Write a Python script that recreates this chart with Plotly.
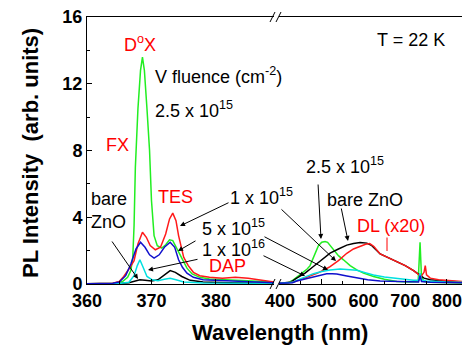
import plotly.graph_objects as go

# ---------------- data: left segment (360-389 nm) ----------------
g_x_l = [360, 364, 365.5, 366.3, 366.8, 367.1, 367.3, 367.5, 367.9, 368.3, 368.6, 368.9, 369.3, 369.7, 370.0, 370.4, 370.9, 371.6, 372.2, 372.8, 373.3, 374.0, 374.7, 375.5, 376.3, 377.5, 379, 382, 385, 389]
g_y_l = [0.02, 0.05, 0.15, 0.4, 0.8, 1.6, 3.5, 7.0, 10.5, 12.8, 13.6, 12.8, 10.5, 8.0, 5.0, 2.9, 2.3, 2.15, 2.35, 2.65, 2.6, 2.1, 1.6, 0.95, 0.6, 0.4, 0.3, 0.25, 0.2, 0.12]

r_x_l = [360, 364, 365.0, 365.7, 366.5, 367.3, 367.9, 368.6, 369.2, 369.8, 370.6, 371.4, 372.2, 372.8, 373.3, 373.8, 374.2, 374.6, 375.0, 375.7, 376.5, 377.5, 379, 381, 383, 385, 389]
r_y_l = [0.02, 0.05, 0.15, 0.45, 0.9, 1.4, 2.4, 3.1, 2.8, 2.3, 2.05, 2.2, 3.0, 3.9, 4.25, 3.8, 2.9, 2.2, 1.6, 1.1, 0.7, 0.5, 0.4, 0.35, 0.4, 0.35, 0.12]

b_x_l = [360, 364, 365.0, 366, 366.8, 367.6, 368.3, 369.0, 369.7, 370.4, 371.2, 372.0, 372.9, 373.6, 374.2, 374.8, 375.5, 376.5, 378, 381, 385, 389]
b_y_l = [0.02, 0.05, 0.12, 0.5, 1.2, 2.1, 2.5, 2.2, 1.75, 1.55, 1.75, 2.2, 2.5, 2.2, 1.45, 1.0, 0.65, 0.4, 0.25, 0.2, 0.15, 0.08]

c_x_l = [360, 365, 366.5, 367.3, 367.8, 368.2, 368.7, 369.3, 370.1, 371.0, 372.0, 372.9, 373.8, 375, 378, 389]
c_y_l = [0.02, 0.03, 0.1, 0.5, 1.1, 1.45, 1.0, 0.45, 0.25, 0.2, 0.28, 0.35, 0.25, 0.12, 0.06, 0.05]

k_x_l = [360, 365, 366.5, 367.5, 368.2, 369, 370, 371, 372, 372.9, 373.7, 374.7, 376, 378, 382, 389]
k_y_l = [0.02, 0.03, 0.08, 0.18, 0.25, 0.22, 0.18, 0.25, 0.55, 0.8, 0.7, 0.45, 0.22, 0.12, 0.08, 0.05]

# ---------------- data: right segment (400-835 nm) ----------------
g_x_r = [397.6, 420, 432, 450, 465, 472, 484, 492, 500, 508, 514, 520, 528, 540, 552, 568, 584, 600, 624, 650, 680, 710, 731, 735.5, 739, 745, 760, 800, 836]
g_y_r = [0.06, 0.08, 0.25, 0.6, 0.9, 1.1, 1.85, 2.3, 2.5, 2.55, 2.5, 2.3, 2.05, 1.7, 1.45, 1.1, 0.85, 0.65, 0.45, 0.28, 0.15, 0.12, 0.15, 2.5, 0.4, 0.15, 0.1, 0.08, 0.06]

k_x_r = [397.6, 425, 440, 460, 480, 500, 520, 540, 560, 576, 592, 608, 620, 640, 660, 680, 700, 720, 736, 745, 760, 780, 800, 836]
k_y_r = [0.05, 0.1, 0.35, 0.65, 1.05, 1.45, 1.85, 2.1, 2.33, 2.43, 2.48, 2.45, 2.3, 1.8, 1.55, 1.35, 1.1, 0.8, 0.5, 0.35, 0.25, 0.2, 0.17, 0.12]

r_x_r = [397.6, 430, 448, 470, 490, 510, 520, 540, 560, 576, 592, 605, 615, 625, 640, 660, 680, 700, 720, 738, 745, 748, 751, 760, 780, 800, 836]
r_y_r = [0.05, 0.1, 0.25, 0.45, 0.65, 0.9, 1.04, 1.4, 1.84, 2.1, 2.28, 2.38, 2.42, 2.25, 1.8, 1.55, 1.35, 1.1, 0.8, 0.45, 0.7, 1.1, 0.55, 0.35, 0.25, 0.2, 0.15]

c_x_r = [397.6, 430, 440, 460, 480, 500, 520, 544, 565, 584, 604, 624, 650, 680, 720, 732, 735.5, 739, 750, 800, 836]
c_y_r = [0.05, 0.1, 0.22, 0.42, 0.62, 0.75, 0.84, 0.9, 0.88, 0.82, 0.68, 0.54, 0.42, 0.32, 0.22, 0.22, 0.65, 0.25, 0.18, 0.12, 0.1]

b_x_r = [397.6, 430, 440, 460, 480, 500, 512, 525, 536, 560, 584, 610, 640, 700, 732, 735.5, 739, 760, 836]
b_y_r = [0.05, 0.08, 0.18, 0.3, 0.44, 0.56, 0.62, 0.62, 0.6, 0.48, 0.35, 0.25, 0.18, 0.12, 0.12, 0.5, 0.15, 0.1, 0.08]

y_ticks = [0, 4, 8, 12, 16]
x_ticks_l = [360, 370, 380]
x_ticks_r = [400, 500, 600, 700, 800]

GREEN = "#22ee22"
RED = "#ff1a1a"
BLUE = "#1010cc"
CYAN = "#00e0e0"
BLACK = "#000000"

W, H = 464, 350
L, R, T, B = 87, 2, 17, 66
PW, PH = W - L - R, H - T - B


def px(x):
    return (x - L) / PW


def py(y):
    return (H - B - y) / PH


fig = go.Figure()
series = [
    (g_x_l, g_y_l, g_x_r, g_y_r, GREEN),
    (k_x_l, k_y_l, k_x_r, k_y_r, BLACK),
    (r_x_l, r_y_l, r_x_r, r_y_r, RED),
    (c_x_l, c_y_l, c_x_r, c_y_r, CYAN),
    (b_x_l, b_y_l, b_x_r, b_y_r, BLUE),
]
for xl, yl, xr, yr, col in series:
    fig.add_trace(go.Scatter(x=xl, y=yl, xaxis="x", yaxis="y", mode="lines",
                             line=dict(color=col, width=1.5), showlegend=False))
    fig.add_trace(go.Scatter(x=xr, y=yr, xaxis="x2", yaxis="y", mode="lines",
                             line=dict(color=col, width=1.5), showlegend=False))

FONT = "Liberation Sans, Arial, sans-serif"
tickfont = dict(family=FONT, size=18, color="black", weight="bold")

x_left_end = px(274)
x_right_start = px(279)

common_x = dict(showline=True, linecolor="black", linewidth=1, mirror=True,
                ticks="inside", ticklen=5, tickcolor="black", showgrid=False,
                zeroline=False, tickfont=tickfont, anchor="y")

fig.update_layout(
    width=W, height=H,
    margin=dict(l=L, r=R, t=T, b=B),
    plot_bgcolor="white", paper_bgcolor="white",
    xaxis=dict(domain=[0, x_left_end], range=[360, 389], tickvals=x_ticks_l,
               minor=dict(dtick=5, ticks="inside", ticklen=3, tickcolor="black"),
               **common_x),
    xaxis2=dict(domain=[x_right_start, 1], range=[397.6, 836], tickvals=x_ticks_r,
                minor=dict(dtick=50, ticks="inside", ticklen=3, tickcolor="black"),
                **common_x),
    yaxis=dict(domain=[0, 1], range=[0, 16], tickvals=y_ticks, showline=True,
               linecolor="black", linewidth=1, ticks="inside", ticklen=5,
               tickcolor="black", showgrid=False, zeroline=False,
               tickfont=tickfont, anchor="x",
               minor=dict(dtick=2, ticks="inside", ticklen=3, tickcolor="black")),
)

# break marks
for yy in (H - B, T):
    for cx in (272.5, 278.5):
        fig.add_shape(type="line", xref="paper", yref="paper",
                      x0=px(cx - 2.5), y0=py(yy + 5), x1=px(cx + 2.5), y1=py(yy - 5),
                      line=dict(color="black", width=1))

ann_font = dict(family=FONT, size=18, color="black")
red_font = dict(family=FONT, size=18, color="red")


def text(t, x, y, font, xanchor="center", align="center"):
    fig.add_annotation(text=t, x=px(x), y=py(y), xref="paper", yref="paper",
                       xanchor=xanchor, yanchor="middle", showarrow=False,
                       font=font, align=align)


text("D<sup>o</sup>X", 140, 43, red_font)
text("V fluence (cm<sup>-2</sup>)", 153, 75, ann_font, xanchor="left")
text("2.5 x 10<sup>15</sup>", 153, 110, ann_font, xanchor="left")
text("T = 22 K", 411, 40, ann_font)
text("FX", 117, 145, red_font)
text("TES", 175, 197, red_font)
text("bare<br>ZnO", 89, 210, ann_font, xanchor="left", align="left")
text("1 x 10<sup>15</sup>", 228, 196, ann_font, xanchor="left")
text("5 x 10<sup>15</sup>", 200, 227, ann_font, xanchor="left")
text("1 x 10<sup>16</sup>", 200, 248, ann_font, xanchor="left")
text("DAP", 227, 266, red_font)
text("2.5 x 10<sup>15</sup>", 345, 165, ann_font)
text("bare ZnO", 365, 200, ann_font)
text("DL (x20)", 391, 226, red_font)


def arrow(head, tail, color="black", head_on=True):
    fig.add_annotation(text="", x=px(head[0]), y=py(head[1]), xref="paper", yref="paper",
                       ax=tail[0] - head[0], ay=tail[1] - head[1], showarrow=True,
                       arrowhead=2 if head_on else 0, arrowsize=1, arrowwidth=1,
                       arrowcolor=color)


arrow((138, 279), (111, 240))
arrow((180, 226), (230, 202))
arrow((178, 251), (197, 240))
arrow((148, 270), (199, 259))
arrow((321, 239), (318, 183))
arrow((348, 241), (341, 207))
arrow((336, 261), (280, 208))
arrow((328, 270), (263, 236))
arrow((305, 276), (262, 255))
arrow((387, 251), (387, 236), color="red", head_on=False)

# axis titles
fig.add_annotation(text="Wavelength (nm)", x=px(280), y=py(332), xref="paper", yref="paper",
                   showarrow=False, xanchor="center", yanchor="middle",
                   font=dict(family=FONT, size=22, color="black", weight="bold"))
fig.add_annotation(text="PL Intensity\u00a0\u00a0(arb. units)", x=px(30), y=py(153),
                   xref="paper", yref="paper", showarrow=False, textangle=-90,
                   xanchor="center", yanchor="middle",
                   font=dict(family=FONT, size=22, color="black", weight="bold"))

fig.write_html("out.html")
